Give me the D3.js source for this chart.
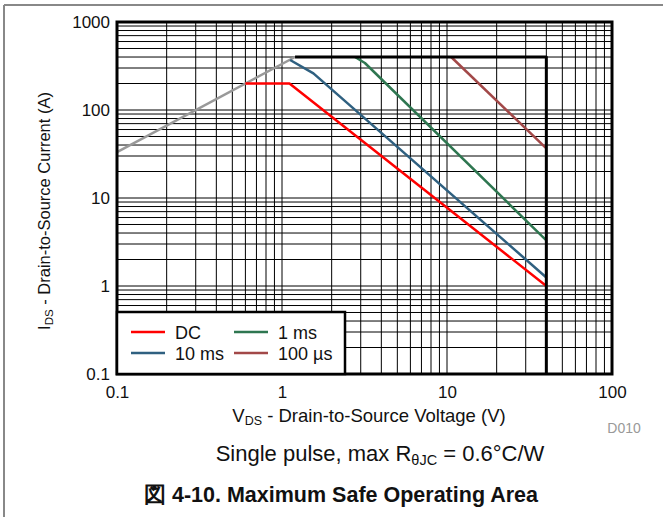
<!DOCTYPE html>
<html>
<head>
<meta charset="utf-8">
<script src="https://cdn.jsdelivr.net/npm/d3@7"></script>
<style>
  body { margin: 0; background: #fff; }
  text { font-family: "Liberation Sans", Arial, sans-serif; }
</style>
</head>
<body>
<svg id="chart" width="663" height="517"></svg>
<script>
// series: [V, A] pairs
var rdsLimit = [[0.1, 33.3], [1.2, 400]];
var boundary = [[1.2, 400], [40, 400], [40, 0.1]];
var dcLine = [[0.6, 200], [1.11, 200], [40, 1.0]];
var ms10Line = [[1.12, 370], [1.55, 261], [40, 1.25]];
var ms1Line = [[2.77, 400], [3.18, 342], [40, 3.3]];
var us100Line = [[10.6, 400], [40, 36.7]];

var xTicks = [0.1, 1, 10, 100];
var yTicks = [0.1, 1, 10, 100, 1000];
var legendNames = ["DC", "10 ms", "1 ms", "100 µs"];
var legendColors = ["#ff0000", "#2f6080", "#2e7650", "#a24848"];

var svg = d3.select("#chart");

// page frame
svg.append("line").attr("x1", 4).attr("y1", 5).attr("x2", 663).attr("y2", 5)
  .attr("stroke", "#888").attr("stroke-width", 2);
svg.append("line").attr("x1", 4).attr("y1", 5).attr("x2", 4).attr("y2", 517)
  .attr("stroke", "#888").attr("stroke-width", 2);

var pLeft = 117, pRight = 612, pTop = 22, pBottom = 374;
var x = d3.scaleLog().domain([0.1, 100]).range([pLeft, pRight]);
var y = d3.scaleLog().domain([0.1, 1000]).range([pBottom, pTop]);

// minor grid
var g = svg.append("g");
var xGrid = [], yGrid = [];
[-1, 0, 1].forEach(function(e) {
  for (var k = 1; k < 10; k++) xGrid.push(k * Math.pow(10, e));
});
[-1, 0, 1, 2].forEach(function(e) {
  for (var k = 1; k < 10; k++) yGrid.push(k * Math.pow(10, e));
});
g.selectAll(".vg").data(xGrid).enter().append("line")
  .attr("x1", function(v) { return x(v); }).attr("x2", function(v) { return x(v); })
  .attr("y1", pTop).attr("y2", pBottom)
  .attr("stroke", "#000").attr("stroke-width", 1);
g.selectAll(".hg").data(yGrid).enter().append("line")
  .attr("y1", function(v) { return y(v); }).attr("y2", function(v) { return y(v); })
  .attr("x1", pLeft).attr("x2", pRight)
  .attr("stroke", "#000").attr("stroke-width", 1);

var line = d3.line()
  .x(function(p) { return x(p[0]); })
  .y(function(p) { return y(p[1]); });

function curve(data, color, w) {
  svg.append("path").datum(data).attr("d", line)
    .attr("fill", "none").attr("stroke", color).attr("stroke-width", w)
    .attr("stroke-linejoin", "round");
}
curve(rdsLimit, "#999999", 2.5);
curve(dcLine, legendColors[0], 2.5);
curve(ms10Line, legendColors[1], 2.5);
curve(ms1Line, legendColors[2], 2.5);
curve(us100Line, legendColors[3], 2.5);
curve(boundary, "#000", 3);

// frame
svg.append("rect").attr("x", pLeft).attr("y", pTop)
  .attr("width", pRight - pLeft).attr("height", pBottom - pTop)
  .attr("fill", "none").attr("stroke", "#000").attr("stroke-width", 3);

// axes labels
var xAxis = d3.axisBottom(x).tickValues(xTicks).tickFormat(function(v) { return String(v); }).tickSize(0).tickPadding(12);
var yAxis = d3.axisLeft(y).tickValues(yTicks).tickFormat(function(v) { return String(v); }).tickSize(0).tickPadding(7);
var xa = svg.append("g").attr("transform", "translate(0," + pBottom + ")").call(xAxis);
var ya = svg.append("g").attr("transform", "translate(" + pLeft + ",0)").call(yAxis);
[xa, ya].forEach(function(a) {
  a.select(".domain").remove();
  a.selectAll("text").attr("font-size", 17).attr("fill", "#111")
    .style("font-family", "'Liberation Sans', Arial, sans-serif");
});

// legend
var lg = svg.append("g");
lg.append("rect").attr("x", pLeft).attr("y", 312).attr("width", 228).attr("height", pBottom - 312)
  .attr("fill", "#fff").attr("stroke", "#000").attr("stroke-width", 2.5);
legendNames.forEach(function(name, i) {
  var col = Math.floor(i / 2), row = i % 2;
  var lx = 131 + col * 103, ly = 332 + row * 21;
  lg.append("line").attr("x1", lx).attr("x2", lx + 34).attr("y1", ly).attr("y2", ly)
    .attr("stroke", legendColors[i]).attr("stroke-width", 2.5);
  lg.append("text").attr("x", lx + 44).attr("y", ly + 6.5).attr("font-size", 18)
    .attr("fill", "#111").text(name);
});

// axis titles
var xt = svg.append("text").attr("x", 369).attr("y", 422).attr("text-anchor", "middle")
  .attr("font-size", 18.5).attr("fill", "#111");
xt.append("tspan").text("V");
xt.append("tspan").attr("font-size", 12.5).attr("dy", 3).text("DS");
xt.append("tspan").attr("dy", -3).text(" - Drain-to-Source Voltage (V)");

var yt = svg.append("text").attr("transform", "translate(50,211) rotate(-90)")
  .attr("text-anchor", "middle").attr("font-size", 16.5).attr("fill", "#111");
yt.append("tspan").text("I");
yt.append("tspan").attr("font-size", 11.5).attr("dy", 3).text("DS");
yt.append("tspan").attr("dy", -3).text(" - Drain-to-Source Current (A)");

svg.append("text").attr("x", 624).attr("y", 433).attr("text-anchor", "middle")
  .attr("font-size", 14).attr("fill", "#999").text("D010");

var sp = svg.append("text").attr("x", 380).attr("y", 461).attr("text-anchor", "middle")
  .attr("font-size", 22).attr("fill", "#111");
sp.append("tspan").text("Single pulse, max R");
sp.append("tspan").attr("font-size", 14.5).attr("dy", 4).text("θJC");
sp.append("tspan").attr("dy", -4).text(" = 0.6°C/W");

svg.append("text").attr("x", 341).attr("y", 502).attr("text-anchor", "middle")
  .attr("font-size", 21.5).attr("font-weight", "bold").attr("fill", "#111")
  .text("図 4-10. Maximum Safe Operating Area");
</script>
</body>
</html>
